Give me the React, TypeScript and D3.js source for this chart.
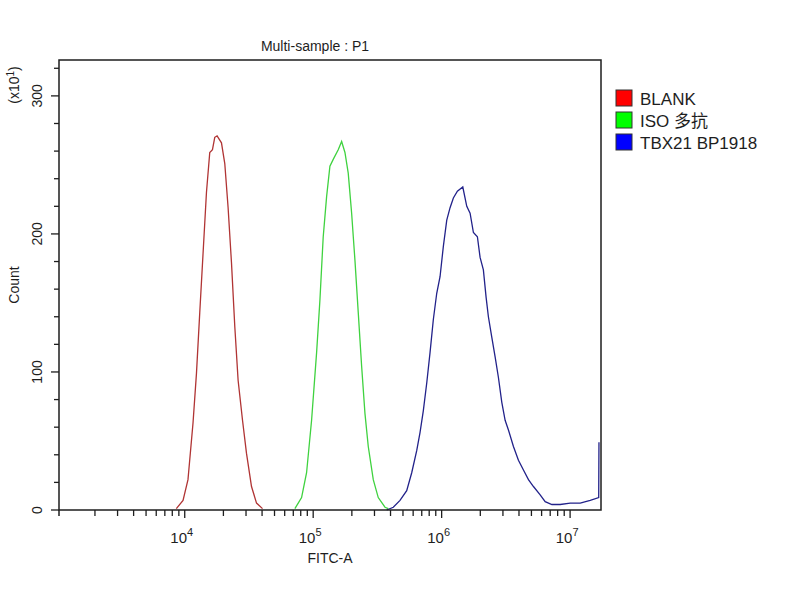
import { useEffect, useRef } from "react";
import * as d3 from "d3";

// histogram series: fluorescence (FITC-A) and count in units of x10^1
const blankX = [8600, 9700, 10600, 11600, 12340, 13090, 13890, 14760, 15660, 16440, 17130, 17860, 19320, 20500, 21760, 23120, 24530, 26030, 28170, 30260, 33100, 36220, 40330];
const blankY = [1, 7, 22, 63, 99, 143, 186, 230, 259, 261, 270, 271, 266, 251, 219, 179, 133, 94, 65, 41, 17, 5, 1];

const isoX = [72030, 81210, 88830, 97160, 106300, 112800, 119700, 127200, 134950, 143200, 156600, 166500, 176700, 187400, 199200, 211350, 224300, 238400, 252900, 268400, 293600, 321000, 362200, 384200];
const isoY = [1, 9, 27, 65, 114, 152, 198, 227, 249, 254, 261, 267, 259, 244, 215, 181, 143, 104, 70, 46, 22, 9, 2, 1];

const tbxX = [373400, 420300, 474000, 534600, 584800, 639500, 678600, 720300, 765500, 812100, 861700, 915800, 971600, 1031000, 1096000, 1163000, 1234000, 1326000, 1461000, 1569000, 1665000, 1767000, 1898000, 1992000, 2113000, 2219000, 2312000, 2458000, 2608000, 2767000, 2940000, 3120000, 3311000, 3622000, 3961000, 4333000, 4740000, 5185000, 5848000, 6396000, 7215000, 8372000, 10020000, 11990000, 14340000, 16700000, 16777215];
const tbxY = [0, 2, 7, 14, 27, 43, 56, 72, 92, 114, 138, 157, 169, 191, 210, 219, 226, 231, 234, 220, 215, 201, 198, 183, 174, 154, 140, 125, 111, 96, 78, 65, 58, 46, 36, 29, 22, 17, 11, 6, 4, 4, 5, 5, 7, 9, 49];

const seriesNames = ["BLANK", "ISO 多抗", "TBX21 BP1918"];
const seriesColors = ["#b03434", "#3fd23f", "#22228a"];
const legendColors = ["#ff0000", "#00ff00", "#0000ff"];

const yTicks = [0, 100, 200, 300];
const xTicks = [1e4, 1e5, 1e6, 1e7];
const xDomain = [1050, 17400000];
const yDomain = [0, 326];

export default function App() {
  const ref = useRef<SVGSVGElement | null>(null);

  useEffect(() => {
    if (!ref.current) return;
    const svg = d3.select(ref.current);
    svg.selectAll("*").remove();

    const left = 59, right = 601, top = 60, bottom = 510;
    const font = "'Liberation Sans', Arial, sans-serif";
    const ink = "#1e1e1e";

    const x = d3.scaleLog().domain(xDomain).range([left, right]);
    const y = d3.scaleLinear().domain(yDomain).range([bottom, top]);

    svg.append("rect").attr("width", 800).attr("height", 600).attr("fill", "#fff");

    // title
    svg.append("text")
      .attr("x", 315).attr("y", 51)
      .attr("text-anchor", "middle")
      .attr("font-family", font).attr("font-size", 14)
      .attr("fill", ink)
      .text("Multi-sample : P1");

    // curves
    const line = d3.line<[number, number]>()
      .x((d) => x(d[0]))
      .y((d) => y(d[1]));
    const all = [
      d3.zip(blankX, blankY),
      d3.zip(isoX, isoY),
      d3.zip(tbxX, tbxY),
    ];
    all.forEach((pts, i) => {
      svg.append("path")
        .attr("d", line(pts as [number, number][]))
        .attr("fill", "none")
        .attr("stroke", seriesColors[i])
        .attr("stroke-width", 1.3);
    });

    // frame
    svg.append("rect")
      .attr("x", left).attr("y", top)
      .attr("width", right - left).attr("height", bottom - top)
      .attr("fill", "none").attr("stroke", ink).attr("stroke-width", 1.5);

    // y ticks
    const yMinor = d3.range(0, 321, 20);
    svg.selectAll("line.ym").data(yMinor).enter().append("line")
      .attr("x1", (d) => (d % 100 === 0 ? left - 8 : left - 5)).attr("x2", left)
      .attr("y1", (d) => y(d)).attr("y2", (d) => y(d))
      .attr("stroke", ink).attr("stroke-width", 1.3);
    svg.selectAll("text.yl").data(yTicks).enter().append("text")
      .attr("transform", (d) => `translate(42,${y(d)}) rotate(-90)`)
      .attr("text-anchor", "middle")
      .attr("font-family", font).attr("font-size", 14)
      .attr("fill", ink)
      .text((d) => d);
    svg.append("text")
      .attr("transform", `translate(19,285) rotate(-90)`)
      .attr("text-anchor", "middle")
      .attr("font-family", font).attr("font-size", 14).attr("fill", ink)
      .text("Count");
    const mult = svg.append("text")
      .attr("transform", `translate(19,85) rotate(-90)`)
      .attr("text-anchor", "middle")
      .attr("font-family", font).attr("font-size", 14).attr("fill", ink);
    mult.append("tspan").text("(x10");
    mult.append("tspan").attr("dy", -5).attr("font-size", 10).text("1");
    mult.append("tspan").attr("dy", 5).text(")");

    // y axis extends slightly below the x axis
    svg.append("line")
      .attr("x1", left).attr("x2", left).attr("y1", bottom).attr("y2", bottom + 6)
      .attr("stroke", ink).attr("stroke-width", 1.5);

    // x ticks
    const xMinor: number[] = [];
    for (let e = 3; e <= 7; e++) {
      for (let k = 1; k <= 9; k++) {
        const v = k * Math.pow(10, e);
        if (v > xDomain[0] && v < xDomain[1]) xMinor.push(v);
      }
    }
    svg.selectAll("line.xm").data(xMinor).enter().append("line")
      .attr("x1", (d) => x(d)).attr("x2", (d) => x(d))
      .attr("y1", bottom).attr("y2", (d) => (xTicks.includes(d) ? bottom + 8 : bottom + 6))
      .attr("stroke", ink).attr("stroke-width", 1.3);
    xTicks.forEach((v) => {
      const t = svg.append("text")
        .attr("x", x(v) - 3).attr("y", 543)
        .attr("text-anchor", "middle")
        .attr("font-family", font).attr("font-size", 15).attr("fill", ink);
      t.append("tspan").text("10");
      t.append("tspan").attr("dy", -7).attr("font-size", 11).text(String(Math.log10(v)));
    });
    svg.append("text")
      .attr("x", (left + right) / 2).attr("y", 563)
      .attr("text-anchor", "middle")
      .attr("font-family", font).attr("font-size", 14).attr("fill", ink)
      .text("FITC-A");

    // legend
    const lg = svg.append("g").attr("transform", "translate(616,90)");
    seriesNames.forEach((name, i) => {
      lg.append("rect")
        .attr("x", 0).attr("y", i * 22)
        .attr("width", 16).attr("height", 16)
        .attr("fill", legendColors[i]).attr("stroke", "#333").attr("stroke-width", 1);
      lg.append("text")
        .attr("x", 24).attr("y", i * 22 + 15)
        .attr("font-family", "'Liberation Sans', 'Noto Sans CJK SC', Arial, sans-serif")
        .attr("font-size", 17).attr("fill", ink)
        .text(name);
    });
  }, []);

  return (
    <svg
      ref={ref}
      width={800}
      height={600}
      style={{ position: "absolute", left: 0, top: 0, display: "block" }}
    />
  );
}
